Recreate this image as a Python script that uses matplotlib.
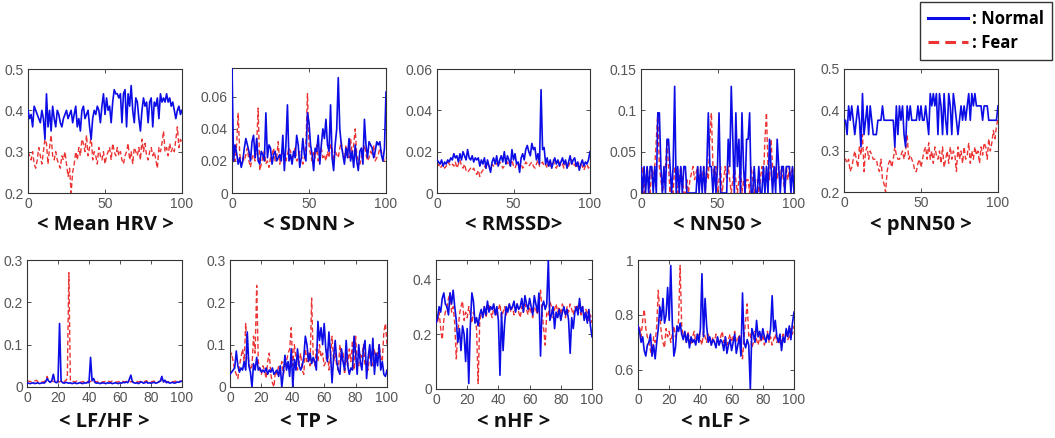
import matplotlib
matplotlib.use("Agg")
import matplotlib.pyplot as plt
from matplotlib import font_manager

# ---------------- data ----------------
titles = ["< Mean HRV >", "< SDNN >", "< RMSSD>", "< NN50 >", "< pNN50 >",
          "< LF/HF >", "< TP >", "< nHF >", "< nLF >"]
legend_labels = [": Normal", ": Fear"]

meanhrv_normal = [0.40,0.38,0.39,0.36,0.41,0.40,0.39,0.38,0.37,0.40,
                  0.38,0.33,0.44,0.36,0.40,0.35,0.41,0.38,0.36,0.40,
                  0.39,0.37,0.36,0.38,0.39,0.40,0.38,0.39,0.40,0.37,
                  0.39,0.41,0.36,0.38,0.35,0.40,0.41,0.38,0.39,0.40,
                  0.36,0.33,0.38,0.40,0.39,0.41,0.40,0.37,0.41,0.44,
                  0.39,0.43,0.40,0.41,0.37,0.42,0.45,0.44,0.44,0.43,
                  0.44,0.37,0.44,0.45,0.36,0.44,0.41,0.46,0.40,0.37,
                  0.43,0.42,0.38,0.35,0.40,0.43,0.41,0.42,0.37,0.42,
                  0.43,0.36,0.42,0.41,0.43,0.38,0.44,0.42,0.43,0.42,
                  0.44,0.42,0.43,0.41,0.42,0.40,0.38,0.40,0.41,0.39,0.40]
meanhrv_fear = [0.30,0.29,0.28,0.30,0.27,0.26,0.28,0.31,0.29,0.27,
                0.30,0.33,0.32,0.27,0.31,0.34,0.29,0.28,0.30,0.28,
                0.27,0.26,0.29,0.28,0.30,0.27,0.24,0.26,0.20,0.25,
                0.27,0.30,0.28,0.31,0.29,0.33,0.32,0.30,0.34,0.29,
                0.31,0.34,0.28,0.30,0.29,0.27,0.31,0.29,0.28,0.30,
                0.27,0.29,0.30,0.31,0.28,0.32,0.30,0.29,0.31,0.29,
                0.30,0.28,0.27,0.29,0.30,0.32,0.28,0.30,0.27,0.31,
                0.30,0.29,0.31,0.28,0.33,0.30,0.32,0.29,0.28,0.30,
                0.31,0.29,0.30,0.28,0.26,0.31,0.30,0.32,0.35,0.30,
                0.31,0.29,0.32,0.30,0.31,0.30,0.33,0.36,0.31,0.33,0.32]

sdnn_normal = [0.078,0.020,0.030,0.025,0.018,0.022,0.016,0.020,0.028,0.034,
               0.030,0.026,0.020,0.032,0.036,0.022,0.034,0.020,0.018,0.026,
               0.024,0.020,0.050,0.022,0.030,0.028,0.018,0.024,0.026,0.020,
               0.022,0.024,0.020,0.036,0.014,0.030,0.055,0.020,0.024,0.018,
               0.026,0.022,0.036,0.030,0.016,0.022,0.034,0.024,0.020,0.050,
               0.044,0.030,0.024,0.014,0.028,0.026,0.036,0.018,0.030,0.040,
               0.034,0.046,0.030,0.026,0.055,0.022,0.014,0.030,0.040,0.072,
               0.040,0.030,0.024,0.018,0.028,0.022,0.034,0.020,0.026,0.016,
               0.030,0.020,0.014,0.026,0.028,0.018,0.046,0.030,0.022,0.032,
               0.030,0.028,0.022,0.026,0.032,0.030,0.032,0.024,0.020,0.028,0.063]
sdnn_fear = [0.018,0.022,0.020,0.030,0.050,0.025,0.018,0.022,0.020,0.024,
             0.028,0.020,0.016,0.022,0.024,0.020,0.030,0.053,0.014,0.018,
             0.022,0.026,0.018,0.020,0.016,0.022,0.024,0.028,0.020,0.022,
             0.032,0.018,0.024,0.026,0.022,0.020,0.024,0.028,0.026,0.022,
             0.024,0.028,0.020,0.022,0.026,0.024,0.018,0.022,0.030,0.062,
             0.030,0.024,0.020,0.026,0.022,0.030,0.020,0.024,0.028,0.022,
             0.024,0.020,0.026,0.022,0.030,0.028,0.020,0.026,0.024,0.022,
             0.028,0.032,0.024,0.020,0.030,0.026,0.022,0.034,0.024,0.030,
             0.040,0.024,0.020,0.018,0.022,0.026,0.030,0.024,0.020,0.022,
             0.026,0.024,0.030,0.020,0.022,0.024,0.028,0.026,0.022,0.020,0.022]

rmssd_normal = [0.016,0.015,0.014,0.016,0.013,0.015,0.014,0.016,0.015,0.017,
                0.016,0.019,0.017,0.018,0.015,0.019,0.016,0.020,0.018,0.016,
                0.021,0.017,0.016,0.018,0.015,0.017,0.016,0.017,0.013,0.016,
                0.014,0.017,0.012,0.016,0.013,0.010,0.015,0.017,0.014,0.018,
                0.013,0.016,0.018,0.015,0.020,0.014,0.018,0.016,0.013,0.021,
                0.016,0.019,0.014,0.015,0.010,0.017,0.019,0.016,0.021,0.023,
                0.020,0.018,0.024,0.021,0.022,0.016,0.019,0.014,0.050,0.021,
                0.022,0.014,0.017,0.013,0.016,0.012,0.015,0.017,0.014,0.016,
                0.013,0.015,0.017,0.014,0.016,0.012,0.015,0.018,0.014,0.016,
                0.017,0.013,0.015,0.011,0.014,0.016,0.013,0.015,0.014,0.016,0.020]
rmssd_fear = [0.013,0.014,0.012,0.013,0.014,0.012,0.013,0.015,0.014,0.013,
              0.014,0.013,0.015,0.012,0.014,0.016,0.013,0.012,0.014,0.011,
              0.010,0.011,0.012,0.011,0.012,0.010,0.009,0.011,0.008,0.010,
              0.011,0.013,0.012,0.014,0.013,0.012,0.014,0.013,0.015,0.014,
              0.013,0.015,0.014,0.012,0.013,0.014,0.015,0.013,0.014,0.016,
              0.013,0.012,0.014,0.015,0.013,0.014,0.012,0.013,0.015,0.014,
              0.013,0.014,0.015,0.013,0.012,0.014,0.016,0.013,0.014,0.015,
              0.013,0.014,0.012,0.015,0.013,0.014,0.016,0.013,0.012,0.014,
              0.015,0.013,0.014,0.012,0.015,0.014,0.013,0.015,0.016,0.013,
              0.014,0.012,0.013,0.015,0.014,0.013,0.011,0.013,0.014,0.012,0.014]

nn50_normal = [0.032,0,0.032,0,0.032,0,0.032,0.032,0,0.032,
               0,0.097,0.097,0.032,0,0.032,0,0.065,0.065,0.032,
               0,0.032,0.129,0,0.032,0,0.032,0,0.032,0.032,
               0,0,0,0,0,0,0,0.032,0,0.032,
               0,0.032,0,0.032,0.097,0.032,0.032,0,0.032,0,
               0.032,0.097,0,0,0,0,0,0.065,0.032,0.129,
               0.065,0,0.097,0.032,0.065,0,0.097,0.032,0,0.065,
               0.065,0.097,0,0,0.032,0,0,0.032,0,0,
               0.032,0,0.032,0,0.065,0.032,0,0.032,0,0.065,
               0.032,0,0.032,0.032,0,0.032,0.032,0.032,0,0.032,0]
nn50_fear = [0.016,0.032,0,0.016,0.032,0.016,0,0.032,0.016,0.032,
             0.065,0.097,0.032,0.016,0,0.016,0.032,0.065,0.032,0,
             0.016,0,0.032,0.016,0,0.016,0.032,0.016,0,0,
             0.016,0,0.016,0.024,0.032,0.016,0.024,0.032,0.016,0.024,
             0.016,0.032,0,0.032,0.016,0.065,0.097,0.032,0.016,0.032,
             0,0.016,0.032,0,0.016,0.032,0.016,0.032,0.016,0,
             0.016,0.032,0.016,0,0.016,0.032,0,0.016,0,0.016,
             0.016,0,0.032,0.016,0,0.016,0.016,0,0.016,0.032,
             0.016,0.065,0.097,0.032,0.016,0.065,0.032,0.016,0.032,0.016,
             0.032,0.016,0.032,0.016,0,0.032,0.016,0.032,0.016,0.032,0.016]

pnn50_normal = [0.375,0.375,0.34,0.41,0.375,0.41,0.375,0.34,0.375,0.41,
                0.375,0.31,0.44,0.34,0.375,0.41,0.34,0.41,0.375,0.34,
                0.34,0.34,0.375,0.375,0.375,0.41,0.375,0.375,0.375,0.375,
                0.375,0.375,0.375,0.31,0.41,0.34,0.41,0.375,0.41,0.34,
                0.31,0.41,0.375,0.41,0.375,0.375,0.375,0.375,0.41,0.375,
                0.41,0.375,0.375,0.41,0.375,0.34,0.44,0.41,0.44,0.41,
                0.44,0.34,0.44,0.41,0.34,0.44,0.375,0.34,0.44,0.41,
                0.34,0.44,0.41,0.375,0.34,0.375,0.41,0.375,0.41,0.375,
                0.41,0.44,0.375,0.44,0.41,0.44,0.41,0.41,0.41,0.41,
                0.375,0.41,0.41,0.41,0.375,0.375,0.375,0.375,0.375,0.375,0.41]
pnn50_fear = [0.28,0.28,0.27,0.28,0.25,0.26,0.28,0.30,0.28,0.26,
              0.31,0.29,0.34,0.25,0.30,0.31,0.28,0.30,0.29,0.28,
              0.28,0.28,0.26,0.25,0.28,0.23,0.22,0.20,0.25,0.27,
              0.28,0.26,0.28,0.31,0.29,0.28,0.28,0.29,0.30,0.28,
              0.30,0.34,0.28,0.29,0.28,0.27,0.25,0.25,0.27,0.28,
              0.26,0.28,0.30,0.31,0.28,0.32,0.28,0.30,0.27,0.31,
              0.29,0.28,0.30,0.27,0.31,0.26,0.28,0.30,0.27,0.31,
              0.28,0.30,0.29,0.25,0.31,0.28,0.30,0.27,0.31,0.28,
              0.29,0.32,0.27,0.30,0.28,0.31,0.29,0.30,0.27,0.31,
              0.29,0.32,0.31,0.28,0.33,0.30,0.32,0.35,0.33,0.36,0.38]

lfhf_normal = [0.010,0.009,0.008,0.009,0.010,0.008,0.009,0.010,0.008,0.009,
               0.010,0.009,0.012,0.020,0.014,0.011,0.015,0.030,0.012,0.010,
               0.012,0.150,0.014,0.010,0.009,0.011,0.010,0.009,0.010,0.008,
               0.009,0.010,0.008,0.009,0.010,0.009,0.008,0.010,0.009,0.011,
               0.010,0.070,0.015,0.020,0.010,0.009,0.010,0.008,0.009,0.010,
               0.009,0.008,0.010,0.009,0.010,0.008,0.009,0.010,0.009,0.008,
               0.010,0.009,0.011,0.010,0.012,0.010,0.018,0.028,0.012,0.010,
               0.009,0.010,0.008,0.011,0.012,0.009,0.010,0.012,0.009,0.010,
               0.009,0.010,0.011,0.009,0.010,0.012,0.014,0.025,0.012,0.016,
               0.010,0.012,0.009,0.010,0.011,0.009,0.010,0.012,0.011,0.013,0.014]
lfhf_fear = [0.015,0.014,0.013,0.012,0.013,0.014,0.016,0.013,0.012,0.011,
             0.012,0.013,0.015,0.025,0.013,0.012,0.014,0.013,0.012,0.014,
             0.013,0.012,0.014,0.012,0.013,0.015,0.020,0.270,0.015,0.012,
             0.013,0.012,0.014,0.013,0.012,0.011,0.013,0.012,0.014,0.013,
             0.012,0.013,0.015,0.012,0.013,0.012,0.014,0.013,0.011,0.012,
             0.013,0.012,0.014,0.013,0.012,0.014,0.013,0.012,0.011,0.013,
             0.012,0.014,0.013,0.012,0.013,0.015,0.014,0.012,0.013,0.012,
             0.014,0.013,0.012,0.013,0.014,0.012,0.013,0.015,0.012,0.013,
             0.012,0.013,0.014,0.012,0.013,0.012,0.014,0.016,0.013,0.012,
             0.013,0.012,0.014,0.013,0.012,0.013,0.014,0.012,0.013,0.014,0.013]

tp_normal = [0.030,0.035,0.040,0.045,0.085,0.050,0.035,0.045,0.040,0.060,
             0.040,0.130,0.050,0.035,0.000,0.055,0.040,0.070,0.040,0.045,
             0.035,0.040,0.035,0.045,0.030,0.040,0.035,0.045,0.030,0.035,
             0.040,0.025,0.050,0.000,0.035,0.075,0.040,0.060,0.025,0.090,
             0.000,0.065,0.040,0.090,0.050,0.040,0.050,0.070,0.120,0.100,
             0.060,0.080,0.055,0.070,0.060,0.040,0.155,0.110,0.140,0.100,
             0.150,0.090,0.060,0.130,0.080,0.010,0.070,0.110,0.060,0.040,
             0.030,0.090,0.060,0.040,0.110,0.050,0.030,0.045,0.040,0.120,
             0.080,0.030,0.100,0.060,0.040,0.090,0.110,0.020,0.070,0.100,
             0.050,0.115,0.030,0.080,0.050,0.100,0.040,0.060,0.030,0.025,0.040]
tp_fear = [0.070,0.080,0.060,0.040,0.030,0.020,0.050,0.070,0.090,0.060,
           0.150,0.080,0.060,0.040,0.050,0.120,0.080,0.240,0.060,0.040,
           0.030,0.050,0.040,0.020,0.060,0.080,0.030,0.010,0.000,0.040,
           0.030,0.050,0.040,0.060,0.030,0.050,0.060,0.080,0.090,0.140,
           0.050,0.100,0.070,0.040,0.060,0.080,0.040,0.030,0.090,0.060,
           0.080,0.050,0.210,0.070,0.050,0.090,0.060,0.100,0.070,0.080,
           0.050,0.060,0.090,0.040,0.070,0.120,0.060,0.080,0.050,0.040,
           0.100,0.060,0.080,0.030,0.070,0.050,0.090,0.060,0.110,0.040,
           0.120,0.060,0.050,0.080,0.070,0.100,0.050,0.060,0.040,0.080,
           0.070,0.050,0.090,0.060,0.080,0.100,0.070,0.060,0.130,0.150,0.100]

nhf_normal = [0.24,0.26,0.30,0.28,0.33,0.35,0.31,0.30,0.27,0.35,
              0.31,0.36,0.30,0.25,0.17,0.22,0.14,0.23,0.20,0.10,
              0.22,0.02,0.23,0.35,0.32,0.24,0.26,0.23,0.27,0.29,
              0.26,0.30,0.27,0.32,0.28,0.30,0.29,0.31,0.27,0.30,
              0.25,0.05,0.28,0.14,0.24,0.30,0.28,0.31,0.29,0.30,
              0.32,0.28,0.31,0.29,0.30,0.33,0.28,0.34,0.31,0.29,
              0.33,0.30,0.27,0.34,0.31,0.28,0.35,0.12,0.30,0.32,
              0.29,0.31,0.47,0.25,0.27,0.30,0.22,0.28,0.26,0.29,
              0.25,0.28,0.30,0.27,0.29,0.25,0.13,0.26,0.22,0.28,
              0.30,0.27,0.33,0.28,0.30,0.25,0.28,0.24,0.29,0.23,0.19]
nhf_fear = [0.26,0.24,0.28,0.22,0.18,0.25,0.28,0.30,0.33,0.35,
            0.28,0.30,0.24,0.11,0.20,0.27,0.30,0.32,0.25,0.28,
            0.26,0.30,0.27,0.24,0.28,0.26,0.22,0.02,0.24,0.28,
            0.27,0.30,0.26,0.29,0.31,0.28,0.26,0.30,0.28,0.27,
            0.29,0.31,0.26,0.28,0.30,0.27,0.29,0.31,0.28,0.30,
            0.27,0.29,0.31,0.28,0.26,0.30,0.28,0.31,0.29,0.27,
            0.30,0.28,0.26,0.30,0.29,0.27,0.31,0.36,0.28,0.22,
            0.16,0.28,0.27,0.32,0.30,0.26,0.29,0.31,0.28,0.30,
            0.27,0.31,0.29,0.26,0.30,0.28,0.31,0.29,0.27,0.30,
            0.28,0.31,0.29,0.27,0.30,0.26,0.29,0.28,0.25,0.27,0.24]

nlf_normal = [0.76,0.74,0.70,0.72,0.67,0.65,0.69,0.70,0.73,0.65,
              0.69,0.64,0.70,0.75,0.83,0.78,0.86,0.77,0.80,0.90,
              0.78,0.98,0.77,0.65,0.68,0.76,0.74,0.77,0.73,0.71,
              0.74,0.70,0.73,0.68,0.72,0.70,0.71,0.69,0.73,0.70,
              0.75,0.95,0.72,0.86,0.76,0.70,0.72,0.69,0.71,0.70,
              0.68,0.72,0.69,0.71,0.70,0.67,0.72,0.66,0.69,0.71,
              0.67,0.70,0.73,0.66,0.69,0.72,0.65,0.88,0.70,0.68,
              0.71,0.69,0.53,0.75,0.73,0.70,0.78,0.72,0.74,0.71,
              0.75,0.72,0.70,0.73,0.71,0.75,0.87,0.74,0.78,0.72,
              0.70,0.73,0.67,0.72,0.70,0.75,0.72,0.76,0.71,0.77,0.81]
nlf_fear = [0.74,0.76,0.72,0.78,0.82,0.75,0.72,0.70,0.67,0.65,
            0.72,0.70,0.76,0.89,0.80,0.73,0.70,0.68,0.75,0.72,
            0.74,0.70,0.73,0.76,0.72,0.74,0.78,0.98,0.76,0.72,
            0.73,0.70,0.74,0.71,0.69,0.72,0.74,0.70,0.72,0.73,
            0.71,0.69,0.74,0.72,0.70,0.73,0.71,0.69,0.72,0.70,
            0.73,0.71,0.69,0.72,0.74,0.70,0.72,0.69,0.71,0.73,
            0.70,0.72,0.74,0.70,0.71,0.73,0.69,0.64,0.72,0.78,
            0.84,0.72,0.73,0.68,0.70,0.74,0.71,0.69,0.72,0.70,
            0.73,0.69,0.71,0.74,0.70,0.72,0.69,0.71,0.73,0.70,
            0.72,0.69,0.71,0.73,0.70,0.74,0.71,0.72,0.75,0.73,0.76]

normal_series = [meanhrv_normal, sdnn_normal, rmssd_normal, nn50_normal, pnn50_normal,
                 lfhf_normal, tp_normal, nhf_normal, nlf_normal]
fear_series = [meanhrv_fear, sdnn_fear, rmssd_fear, nn50_fear, pnn50_fear,
               lfhf_fear, tp_fear, nhf_fear, nlf_fear]

ylims = [(0.2, 0.5), (0, 0.078), (0, 0.06), (0, 0.15), (0.2, 0.5),
         (0, 0.3), (0, 0.3), (0, 0.47), (0.53, 1.0)]
yticks = [[0.2, 0.3, 0.4, 0.5], [0, 0.02, 0.04, 0.06], [0, 0.02, 0.04, 0.06],
          [0, 0.05, 0.1, 0.15], [0.2, 0.3, 0.4, 0.5],
          [0, 0.1, 0.2, 0.3], [0, 0.1, 0.2, 0.3], [0, 0.2, 0.4], [0.6, 0.8, 1]]
xticks = [[0, 50, 100]] * 5 + [[0, 20, 40, 60, 80, 100]] * 4

# ---------------- layout (pixels) ----------------
W, H = 1055, 438
boxes = [(28, 69, 154, 124), (232, 68, 154, 125), (437, 69, 153, 124),
         (641, 69, 153, 124), (844, 69, 154, 123),
         (27, 260, 155, 127), (230, 260, 157, 127), (436, 260, 156, 129),
         (638, 260, 156, 129)]
title_y = [225] * 5 + [422] * 4

BLUE = "#0c0ce6"
RED = "#ec3434"

# pick a bold-capable title family
avail = {f.name for f in font_manager.fontManager.ttflist if f.weight in (700, "bold")}
TITLE_FAMILY = "Open Sans"
for cand in ["Noto Sans CJK KR", "Open Sans", "Noto Sans", "Lato", "DejaVu Sans"]:
    if cand in avail:
        TITLE_FAMILY = cand
        break

fig = plt.figure(figsize=(W / 100, H / 100), dpi=100)

def fmt(v):
    return "%g" % v

first_lines = None
for i in range(9):
    l, t, w, h = boxes[i]
    ax = fig.add_axes([l / W, 1 - (t + h) / H, w / W, h / H])
    x = list(range(len(normal_series[i])))
    lf, = ax.plot(x, fear_series[i], color=RED, lw=1.0, dashes=(3.5, 2.0), zorder=2)
    ln, = ax.plot(x, normal_series[i], color=BLUE, lw=1.2, zorder=3)
    if first_lines is None:
        first_lines = (ln, lf)
    ax.set_xlim(0, 100)
    ax.set_ylim(*ylims[i])
    ax.set_xticks(xticks[i])
    ax.set_yticks(yticks[i])
    ax.set_xticklabels([fmt(v) for v in xticks[i]])
    ax.set_yticklabels([fmt(v) for v in yticks[i]])
    ax.tick_params(direction="in", length=3, width=0.6, top=True, right=True,
                   labelsize=10, labelcolor="#555555", color="#333333", pad=3)
    for lab in ax.get_xticklabels() + ax.get_yticklabels():
        lab.set_family("Liberation Sans")
    for sp in ax.spines.values():
        sp.set_color("#333333")
        sp.set_linewidth(0.8)
    fig.text((l + w / 2) / W, 1 - title_y[i] / H, titles[i], ha="center", va="center",
             fontsize=14.5, fontweight="bold", family=TITLE_FAMILY, color="#111111")

leg = fig.legend(first_lines, legend_labels, loc="upper right",
                 bbox_to_anchor=(1052 / W, 1 - 2 / H), frameon=True, fancybox=False,
                 edgecolor="black", handlelength=2.4, handletextpad=0.3,
                 borderpad=0.45, labelspacing=0.4, borderaxespad=0.0,
                 prop={"family": TITLE_FAMILY, "weight": "bold", "size": 12})
leg.get_frame().set_linewidth(1.0)
for hl in leg.get_lines():
    hl.set_linewidth(2.2)

fig.savefig("out.png", dpi=100)
